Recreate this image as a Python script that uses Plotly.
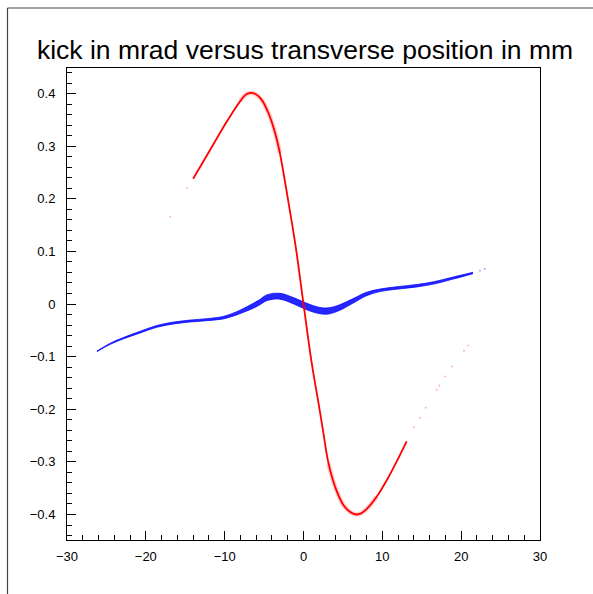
import plotly.graph_objects as go

# ---- data ----
# red series: kick (mrad) vs transverse position (mm), dense part
red_x = [-14.0, -12.0, -10.0, -9.0, -8.0, -7.4, -6.8, -6.1, -5.3, -4.45, -3.6, -3.0,
         -2.0, -1.0, 0.0, 1.05, 2.0, 2.52, 3.16, 4.0, 5.06, 6.0, 6.7, 7.3, 8.0, 9.3,
         10.56, 11.83, 13.09]
red_y = [0.238, 0.289, 0.340, 0.364, 0.386, 0.397, 0.401, 0.399, 0.388, 0.363, 0.325,
         0.287, 0.2015, 0.110, 0.0, -0.113, -0.197, -0.245, -0.302, -0.347, -0.382,
         -0.396, -0.400, -0.398, -0.390, -0.366, -0.335, -0.299, -0.261]
# red sparse tail points
red_tail_x = [-16.9, -14.8, 14.02, 14.78, 15.5, 16.9, 17.22, 17.98, 18.87, 20.36, 20.9]
red_tail_y = [0.166, 0.2205, -0.234, -0.216, -0.197, -0.163, -0.155, -0.138, -0.119,
              -0.089, -0.079]

# blue series: band envelope
blue_x = [-26.2, -24.5, -22.8, -20.7, -18.6, -16.5, -14.4, -12.3, -10.2, -8.4, -6.6,
          -5.7, -4.6, -3.0, -1.3, 0.4, 2.1, 3.2, 4.6, 6.3, 8.0, 9.7, 11.8, 14.4, 16.5,
          19.0, 21.5]
blue_lo = [-0.0906, -0.0766, -0.0660, -0.0549, -0.0442, -0.0380, -0.0342, -0.0317,
           -0.0284, -0.0203, -0.0095, -0.0030, 0.0066, 0.0092, 0.0004, -0.0110, -0.0186,
           -0.0190, -0.0120, 0.0018, 0.0157, 0.0236, 0.0281, 0.0325, 0.0378, 0.0474,
           0.0576]
blue_hi = [-0.0894, -0.0744, -0.0634, -0.0517, -0.0408, -0.0344, -0.0306, -0.0279,
           -0.0238, -0.0141, -0.0005, 0.0070, 0.0176, 0.0203, 0.0124, 0.0015, -0.0066,
           -0.0072, -0.0014, 0.0103, 0.0223, 0.0284, 0.0327, 0.0371, 0.0422, 0.0514,
           0.0602]
blue_tail_x = [22.38, 23.0]
blue_tail_y = [0.063, 0.0665]

title_text = "kick in mrad versus transverse position in mm"

fig = go.Figure()

# blue band
fig.add_trace(go.Scatter(x=blue_x, y=blue_lo, mode="lines",
                         line=dict(color="rgba(0,0,255,0.9)", width=0.8, shape="spline"),
                         hoverinfo="skip", showlegend=False))
fig.add_trace(go.Scatter(x=blue_x, y=blue_hi, mode="lines", fill="tonexty",
                         fillcolor="rgba(0,0,255,0.85)",
                         line=dict(color="rgba(0,0,255,0.9)", width=0.8, shape="spline"),
                         hoverinfo="skip", showlegend=False))
fig.add_trace(go.Scatter(x=blue_tail_x, y=blue_tail_y, mode="markers",
                         marker=dict(color="rgba(0,0,255,0.35)", size=2),
                         hoverinfo="skip", showlegend=False))

# red halo near extrema + core line
fig.add_trace(go.Scatter(x=red_x[4:12], y=red_y[4:12], mode="lines",
                         line=dict(color="rgba(255,0,0,0.2)", width=4.5, shape="spline"),
                         hoverinfo="skip", showlegend=False))
fig.add_trace(go.Scatter(x=red_x[18:26], y=red_y[18:26], mode="lines",
                         line=dict(color="rgba(255,0,0,0.2)", width=4.5, shape="spline"),
                         hoverinfo="skip", showlegend=False))
fig.add_trace(go.Scatter(x=red_x, y=red_y, mode="lines",
                         line=dict(color="#ff0000", width=1.8, shape="spline"),
                         hoverinfo="skip", showlegend=False))
fig.add_trace(go.Scatter(x=red_tail_x, y=red_tail_y, mode="markers",
                         marker=dict(color="rgba(255,0,0,0.3)", size=2),
                         hoverinfo="skip", showlegend=False))

axis_common = dict(
    showgrid=False, zeroline=False, showline=True, linecolor="black", linewidth=1,
    mirror=True, ticks="inside", ticklen=9, tickwidth=1, tickcolor="black",
    tickfont=dict(family="Liberation Sans, Arial, sans-serif", size=13, color="black"),
)

fig.update_xaxes(range=[-30, 30], dtick=10, tick0=0,
                 minor=dict(ticks="inside", ticklen=5, dtick=2, tickcolor="black"),
                 ticklabelstandoff=4, **axis_common)
fig.update_yaxes(range=[-0.4485, 0.4485], dtick=0.1, tick0=0,
                 minor=dict(ticks="inside", ticklen=5, dtick=0.02, tickcolor="black"),
                 ticklabelstandoff=8, **axis_common)

# outer pad border lines (left and top)
L, R, T, B = 67, 540, 68, 540
def px2x(p):
    return (p - L) / (R - L)
def py2y(p):
    return (B - p) / (B - T)

fig.add_shape(type="line", xref="paper", yref="paper",
              x0=px2x(7.5), x1=px2x(7.5), y0=py2y(8), y1=py2y(600),
              line=dict(color="#444444", width=1.2))
fig.add_shape(type="line", xref="paper", yref="paper",
              x0=px2x(7.5), x1=px2x(600), y0=py2y(8), y1=py2y(8),
              line=dict(color="#444444", width=1.2))

fig.update_layout(
    width=593, height=594,
    margin=dict(l=L, r=593 - R, t=T, b=594 - B),
    paper_bgcolor="white", plot_bgcolor="white",
    title=dict(text=title_text, x=305 / 593, xanchor="center",
               y=1 - 50 / 594, yanchor="middle", yref="container",
               font=dict(family="Liberation Sans, Arial, sans-serif", size=26.5, color="black")),
    showlegend=False,
)

fig.write_html("out.html")
